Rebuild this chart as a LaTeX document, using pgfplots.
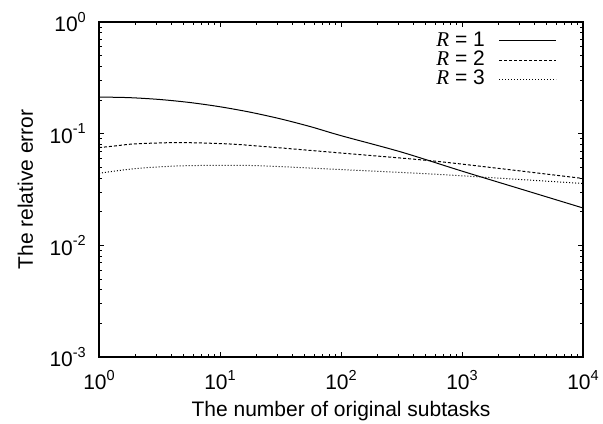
\documentclass[border=0pt]{standalone}
\usepackage{fontspec}
\setmainfont{Liberation Sans}
\newfontfamily\serifit{Liberation Serif}
\usepackage{pgfplots}
\pgfplotsset{compat=1.18}
\newcommand\tp[1]{10\raisebox{9.5pt}{\fontsize{14.5}{14.5}\selectfont #1}}
\begin{document}
\fontsize{21}{24}\selectfont
\begin{tikzpicture}
\begin{axis}[
  name=ax,
  scale only axis, width=484pt, height=335pt,
  xmode=log, ymode=log, xmin=1, xmax=10000, ymin=1e-3, ymax=1,
  xtick={1,10,100,1000,10000}, xticklabels={\tp{0},\tp{1},\tp{2},\tp{3},\tp{4}},
  ytick={0.001,0.01,0.1,1}, yticklabels={\tp{-3},\tp{-2},\tp{-1},\tp{0}},
  tick align=inside, major tick length=5pt, minor tick length=3pt,
  axis line style={line width=1.3pt},
  every tick/.style={line width=0.8pt, black},
  xticklabel style={inner sep=0pt, anchor=north, yshift=-13pt},
  yticklabel style={inner sep=0pt, anchor=east, xshift=-13pt},
  xlabel={The number of original subtasks},
  ylabel={The relative error},
  xlabel style={at={(rel axis cs:0.5,0)}, anchor=base, inner sep=0pt, yshift=-60pt},
  ylabel style={at={(rel axis cs:0,0.5)}, anchor=base, inner sep=0pt, yshift=66pt},
  legend style={draw=none, fill=none, at={(rel axis cs:0.9463,0.9731)}, anchor=north east,
    inner sep=0pt, row sep=0pt, column sep=14pt,
    nodes={inner sep=0pt, text height=15pt, text depth=4.3pt}},
  legend plot pos=right, legend cell align=right,
  legend image code/.code={\draw[#1] (0pt,0pt) -- (57pt,0pt);},
]
\addplot[black, line width=1pt, smooth] coordinates {
(1,0.2128) (1.778,0.2102) (3.162,0.2024) (5.623,0.1902) (10,0.1742) (17.78,0.1557)
(31.62,0.1357) (56.23,0.1154) (100,0.0960) (316.2,0.0684) (1000,0.0462) (3162,0.0316) (10000,0.0216)};
\addlegendentry{{\serifit\itshape R} = 1}
\addplot[black, line width=1pt, smooth, dash pattern=on 3pt off 2pt] coordinates {
(1,0.075) (1.41,0.078) (1.98,0.081) (4.5,0.0832) (11.6,0.081) (23.5,0.0766)
(100,0.0671) (545,0.0573) (2000,0.0489) (10000,0.0397)};
\addlegendentry{{\serifit\itshape R} = 2}
\addplot[black, line width=1pt, smooth, dash pattern=on 1pt off 2pt] coordinates {
(1,0.0442) (1.98,0.0486) (4.5,0.0514) (11.6,0.0521) (23.5,0.0514)
(100,0.0477) (545,0.0436) (2000,0.040) (10000,0.0358)};
\addlegendentry{{\serifit\itshape R} = 3}
\end{axis}
\path ([xshift=-99pt,yshift=-67pt]ax.south west) rectangle ([xshift=20pt,yshift=22pt]ax.north east);
\end{tikzpicture}
\end{document}
